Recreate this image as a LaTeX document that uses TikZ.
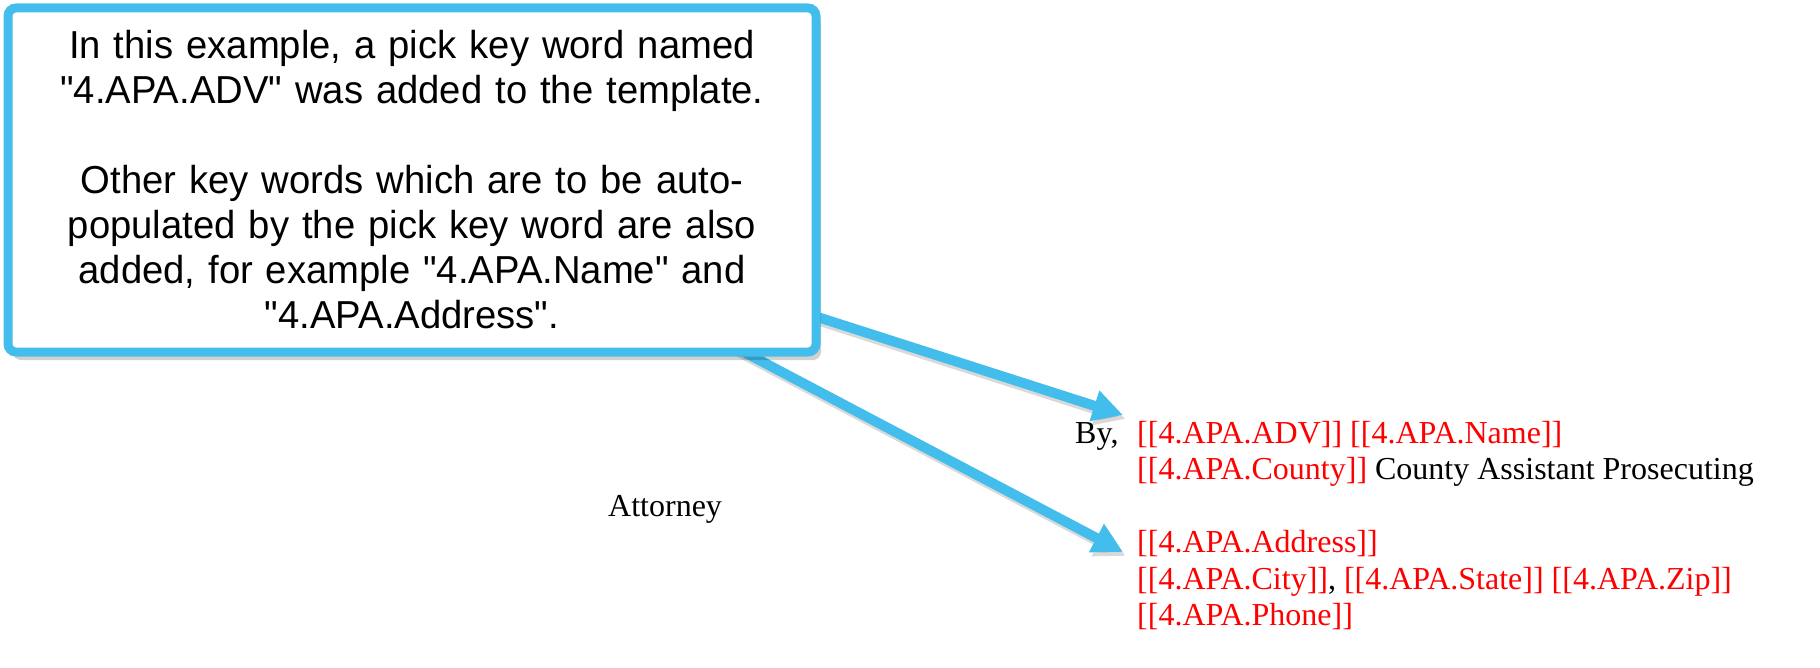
\documentclass[tikz,border=0pt]{standalone}
\usepackage{fontspec}
\setmainfont{Liberation Serif}
\newfontfamily\calloutfont[FakeStretch=0.98]{Liberation Sans}
\usetikzlibrary{arrows.meta,shadows}
\definecolor{callblue}{RGB}{67,190,236}
\definecolor{keyred}{RGB}{255,0,0}
\tikzset{
  callout/.style={draw=callblue, line width=9pt, fill=white, rounded corners=8pt,
    drop shadow={shadow xshift=5pt, shadow yshift=-8pt, fill=black, opacity=0.18},
    minimum width=808pt, minimum height=344pt, text width=790pt, align=center,
    inner sep=0pt, font=\calloutfont\fontsize{39}{45}\selectfont},
  pointer/.style={draw=callblue, line width=10pt, -{Triangle[length=30pt,width=30pt]}},
  pointershadow/.style={draw=black, opacity=0.15, line width=10pt,
    -{Triangle[length=30pt,width=30pt]}, transform canvas={shift={(2.5pt,-4pt)}}},
  doc/.style={anchor=base west, inner sep=0pt, font=\fontsize{32}{36.5}\selectfont},
  key/.style={text=keyred}
}
\begin{document}
\begin{tikzpicture}[x=1pt,y=-1pt]
\useasboundingbox (0,0) rectangle (1820,668);
\coordinate (s1) at (780,305);
\coordinate (t1) at (1123,415);
\coordinate (s2) at (706,332);
\coordinate (t2) at (1123,552);
\draw[pointershadow] (s1) -- (t1);
\draw[pointershadow] (s2) -- (t2);
\draw[pointer] (s1) -- (t1);
\draw[pointer] (s2) -- (t2);
\node[callout] (box) at (412,180) {In this example, a pick key word named\\
"4.APA.ADV" was added to the template.\\
\mbox{}\\
Other key words which are to be auto-\\
populated by the pick key word are also\\
added, for example "4.APA.Name" and\\
"4.APA.Address".};
\node[doc] (by) at (1075,443) {By,};
\node[doc,key] (l1) at (1137,443) {[[4.APA.ADV]] [[4.APA.Name]]};
\node[doc] (l2) at (1137,479.5) {\textcolor{keyred}{[[4.APA.County]]} County Assistant Prosecuting};
\node[doc] (att) at (608,516) {Attorney};
\node[doc,key] (l3) at (1137,552.5) {[[4.APA.Address]]};
\node[doc] (l4) at (1137,589) {\textcolor{keyred}{[[4.APA.City]]}, \textcolor{keyred}{[[4.APA.State]] [[4.APA.Zip]]}};
\node[doc,key] (l5) at (1137,625.5) {[[4.APA.Phone]]};
\end{tikzpicture}
\end{document}
